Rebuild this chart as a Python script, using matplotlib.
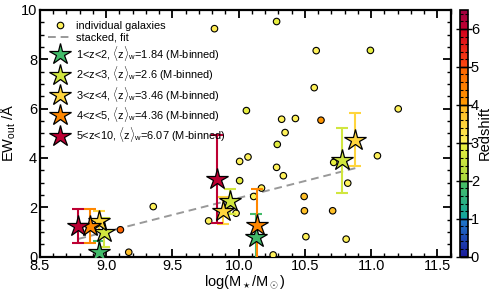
import numpy as np
import matplotlib
matplotlib.use("Agg")
import matplotlib.pyplot as plt
from matplotlib.colors import LinearSegmentedColormap, Normalize
from matplotlib.lines import Line2D
from matplotlib.ticker import MultipleLocator

plt.rcParams['font.family'] = ['Liberation Sans', 'DejaVu Sans']
plt.rcParams['mathtext.fontset'] = 'custom'
plt.rcParams['mathtext.rm'] = 'Liberation Sans'
plt.rcParams['mathtext.it'] = 'Liberation Sans:italic'

# ---------------- data ----------------
gal_logm = [9.817, 10.058, 10.286, 10.585, 10.994, 10.570, 10.324, 10.428, 10.621, 11.204,
            10.350, 10.291, 10.007, 10.070, 10.007, 10.286, 10.337, 10.717, 11.047, 10.823,
            10.172, 10.113, 10.494, 10.496, 10.709, 10.507, 10.811, 10.260, 9.355, 9.107,
            9.170, 9.773, 9.980]
gal_ew = [9.24, 5.92, 9.53, 8.35, 8.36, 6.85, 5.57, 5.60, 5.53, 5.99,
          5.03, 4.55, 3.86, 4.04, 3.08, 3.62, 3.28, 3.82, 4.09, 2.98,
          2.78, 2.44, 2.44, 1.86, 1.86, 0.81, 0.71, 0.07, 2.03, 1.09,
          0.18, 1.45, 1.76]
gal_z = [3.1, 2.9, 2.9, 3.0, 2.9, 3.0, 3.0, 3.0, 4.1, 3.0,
         3.0, 2.8, 3.0, 3.0, 2.9, 3.0, 3.0, 2.9, 3.0, 3.0,
         3.0, 3.0, 3.8, 3.8, 3.8, 3.0, 3.0, 3.0, 3.0, 5.0,
         3.8, 3.0, 3.0]

bin_labels = ["1<z<2", "2<z<3", "3<z<4", "4<z<5", "5<z<10"]
bin_zw = [1.84, 2.6, 3.46, 4.36, 6.07]
stack_logm = [
    [8.947, 10.134],
    [8.982, 9.931, 10.781],
    [8.947, 9.879, 10.880],
    [8.878, 10.139],
    [8.789, 9.837],
]
stack_ew = [
    [0.20, 0.81],
    [0.98, 2.24, 3.90],
    [1.46, 1.87, 4.74],
    [1.25, 1.29],
    [1.25, 3.15],
]
stack_err = [
    [0.45, 0.90],
    [0.57, 0.52, 1.30],
    [0.40, 0.53, 1.07],
    [0.70, 1.45],
    [0.70, 1.80],
]

fit_x = [8.79, 10.882]
fit_slope = 1.372
fit_intercept = 0.72 - 1.372 * 8.79

# ---------------- colormap ----------------
zmax = 6.5
nodes = [
    (0.0, "#1a1a9c"), (0.999, "#1f7ccc"), (1.0, "#12a4a0"), (1.999, "#4cc060"),
    (2.0, "#a6d83e"), (2.999, "#eef040"), (3.0, "#fff25a"), (3.999, "#ffb41c"),
    (4.0, "#ff9a00"), (4.999, "#ff6400"), (5.0, "#ff4a10"), (5.999, "#d4001e"),
    (6.0, "#c40030"), (6.5, "#a00040"),
]
cmap = LinearSegmentedColormap.from_list("zmap", [(v / zmax, c) for v, c in nodes])
norm = Normalize(0, zmax)

# ---------------- figure ----------------
fig = plt.figure(figsize=(4.98, 2.92), dpi=100)
ax = fig.add_axes([0.0803, 0.121, 0.8247, 0.845])
cax = fig.add_axes([0.9237, 0.121, 0.0161, 0.845])

ax.scatter(gal_logm, gal_ew, c=gal_z, cmap=cmap, norm=norm, s=22,
           edgecolors='black', linewidths=0.8, zorder=3)

xx = np.array(fit_x)
ax.plot(xx, fit_intercept + fit_slope * xx, ls=(0, (4, 2.5)), color='#999999', lw=1.4, zorder=2)

for i in range(len(bin_labels)):
    col = cmap(norm(bin_zw[i]))
    ax.errorbar(stack_logm[i], stack_ew[i], yerr=stack_err[i], fmt='none',
                ecolor=col, elinewidth=1.5, capsize=4, capthick=1.5, zorder=4)
for i in range(len(bin_labels)):
    col = cmap(norm(bin_zw[i]))
    ax.plot(stack_logm[i], stack_ew[i], ls='none', marker='*', ms=16,
            mfc=col, mec='black', mew=0.9, zorder=5)

ax.set_xlim(8.5, 11.6)
ax.set_ylim(0, 10)
ax.xaxis.set_minor_locator(MultipleLocator(0.1))
ax.yaxis.set_major_locator(MultipleLocator(2))
ax.yaxis.set_minor_locator(MultipleLocator(0.5))
ax.set_xticks([8.5, 9.0, 9.5, 10.0, 10.5, 11.0, 11.5])
ax.set_xticklabels(["8.5", "9.0", "9.5", "10.0", "10.5", "11.0", "11.5"])
ax.tick_params(which='both', direction='in', top=True, right=True, labelsize=10.5, pad=2)
ax.tick_params(which='major', length=6, width=1.3)
ax.tick_params(which='minor', length=3, width=1.0)
for sp in ax.spines.values():
    sp.set_linewidth(1.6)
ax.set_xlabel(r"log(M$_\star$/M$_\odot$)", fontsize=10.5, labelpad=0)
ax.set_ylabel(r"EW$_{\rm out}$ /Å", fontsize=10.5, labelpad=2)

handles = [
    Line2D([], [], ls='none', marker='o', ms=4.7, mfc=cmap(norm(3.0)), mec='black', mew=0.8),
    Line2D([], [], ls=(0, (4, 2.5)), color='#999999', lw=1.4),
]
labels = ["individual galaxies", "stacked, fit"]
for i in range(len(bin_labels)):
    col = cmap(norm(bin_zw[i]))
    handles.append(Line2D([], [], ls='none', marker='*', ms=16, mfc=col, mec='black', mew=0.9))
    labels.append(bin_labels[i] + r", $\langle{\rm z}\rangle_{\rm w}$=" + str(bin_zw[i]) + " (M-binned)")
ax.legend(handles, labels, loc='upper left', frameon=False, fontsize=7.9,
          handlelength=2.2, handletextpad=0.4, labelspacing=0.12,
          borderaxespad=0.3, bbox_to_anchor=(0.0, 0.985))

# colorbar
cb = matplotlib.colorbar.ColorbarBase(cax, cmap=cmap, norm=norm, orientation='vertical')
cb.set_ticks([0, 1, 2, 3, 4, 5, 6])
cb.ax.yaxis.set_minor_locator(MultipleLocator(0.2))
cb.ax.tick_params(which='both', direction='in', left=True, right=True, labelsize=10.5, pad=2,
                  color='black')
cb.ax.tick_params(which='major', length=8.5, width=1.0)
cb.ax.tick_params(which='minor', length=2.5, width=0.8)
cb.outline.set_linewidth(1.2)
cb.set_label("Redshift", fontsize=10.5, labelpad=-1)

fig.savefig("out.png", dpi=100)
